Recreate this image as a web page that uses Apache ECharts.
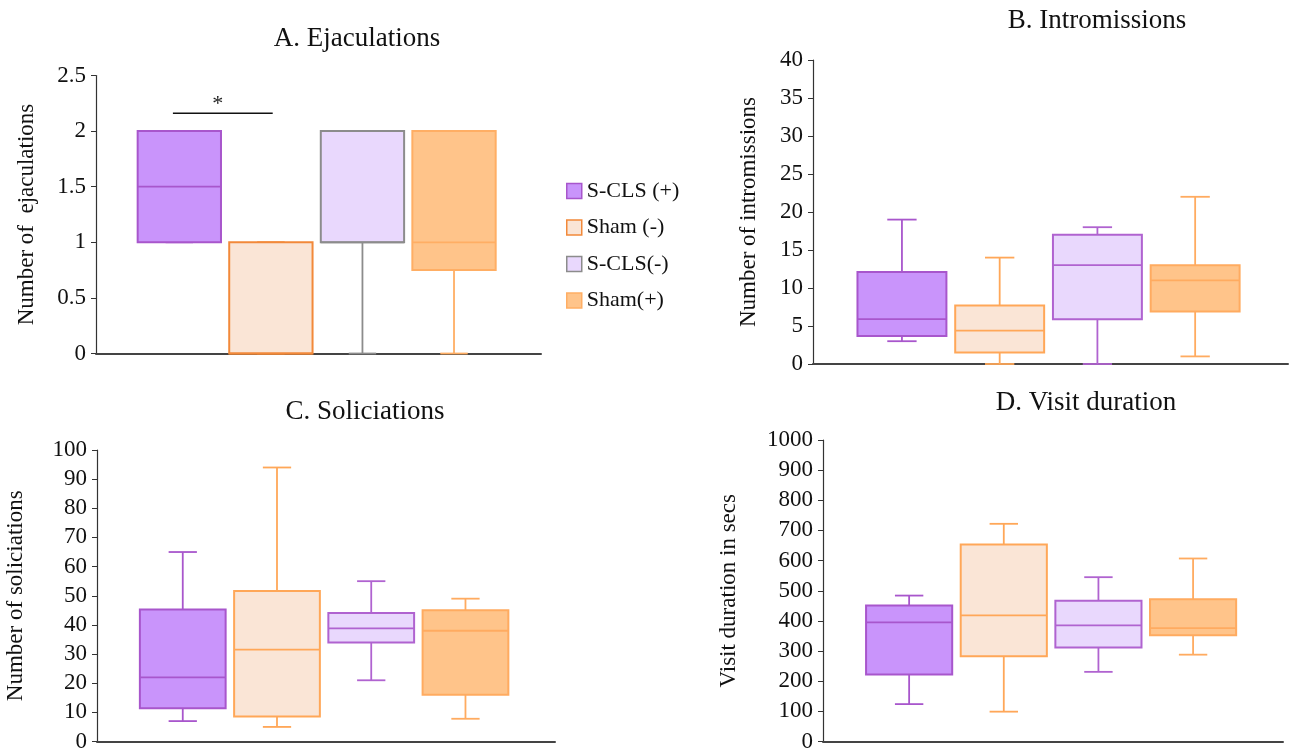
<!DOCTYPE html>
<html>
<head>
<meta charset="utf-8">
<title>Boxplots</title>
<script src="https://cdn.jsdelivr.net/npm/echarts@6/dist/echarts.min.js"></script>
<style>
html, body { margin: 0; padding: 0; background: #fff; }
#main { width: 1292px; height: 753px; }
</style>
</head>
<body>
<div id="main"></div>
<script>
// groups in legend order and where each one sits on the x axis
const groups = ['S-CLS (+)', 'Sham (-)', 'S-CLS(-)', 'Sham(+)'];
const positions = [1, 2, 3, 4];

// [min, Q1, median, Q3, max] for each group
const ejaculations = [[1, 1, 1.5, 2, 2], [0, 0, 0, 1, 1], [0, 1, 1, 2, 2], [0, 0.75, 1, 2, 2]];
const intromissions = [[3, 3.7, 5.9, 12.1, 19], [0, 1.5, 4.4, 7.7, 14], [0, 5.9, 13, 17, 18], [1, 6.9, 11, 13, 22]];
const soliciations = [[7, 11.4, 22, 45.3, 65], [5, 8.6, 31.5, 51.6, 94], [21, 34, 38.8, 44.1, 55], [7.8, 16, 38, 45, 49]];
const visitDuration = [[124, 222, 395, 451, 484], [99, 283, 418, 653, 722], [231, 312, 385, 467, 545], [288, 352, 376, 472, 607]];

const titles = ['A. Ejaculations', 'B. Intromissions', 'C. Soliciations', 'D. Visit duration'];
const yNames = ['Number of  ejaculations', 'Number of intromissions', 'Number of soliciations', 'Visit duration in secs'];
const yMax = [2.5, 40, 100, 1000];
const yStep = [0.5, 5, 10, 100];

// significance bar between S-CLS (+) and Sham (-) in panel A
const sigSpan = [0.93, 2.02];
const sigLevel = 2.16;
const sigText = '*';

const panelData = [ejaculations, intromissions, soliciations, visitDuration];

const fills = ['#c994fb', '#fae5d6', '#e9d8fd', '#ffc48a'];
const strokes = ['#a856cc', '#ffa758', '#b063d0', '#ffab60'];
const strokesA = ['#a856cc', '#f2893a', '#8c8c8c', '#ffae64'];

const font = 'Liberation Serif';
const layout = [
    {left: 96, top: 75.5, width: 445, height: 278, nameGap: 58, tx: 357, ty: 25},
    {left: 813, top: 60, width: 475, height: 304, nameGap: 53, tx: 1097, ty: 7},
    {left: 97, top: 450, width: 458, height: 292.7, nameGap: 70, tx: 365, ty: 398},
    {left: 823, top: 440, width: 460, height: 302.3, nameGap: 83, tx: 1086, ty: 389}
];

function boxRenderer(fill, stroke){
    return function(params, api){
        const x = api.value(0);
        const pt = v => api.coord([x, v]);
        const lo = pt(api.value(1)), q1 = pt(api.value(2)), md = pt(api.value(3)),
              q3 = pt(api.value(4)), hi = pt(api.value(5));
        const unit = api.size([1, 0])[0];
        const half = unit * 0.455, cap = unit * 0.15;
        const cx = lo[0];
        const seg = (x1, y1, x2, y2) => ({type: 'line', shape: {x1, y1, x2, y2}, style: {stroke: stroke, lineWidth: 1.8}});
        return {
            type: 'group',
            children: [
                seg(cx, hi[1], cx, q3[1]),
                seg(cx, q1[1], cx, lo[1]),
                seg(cx - cap, hi[1], cx + cap, hi[1]),
                seg(cx - cap, lo[1], cx + cap, lo[1]),
                {type: 'rect', shape: {x: cx - half, y: q3[1], width: half * 2, height: q1[1] - q3[1]},
                 style: {fill: fill, stroke: stroke, lineWidth: 2}},
                seg(cx - half, md[1], cx + half, md[1])
            ]
        };
    };
}

function sigRenderer(params, api){
    const a = api.coord([api.value(0), api.value(2)]);
    const b = api.coord([api.value(1), api.value(2)]);
    return {
        type: 'group',
        children: [
            {type: 'line', shape: {x1: a[0], y1: a[1], x2: b[0], y2: b[1]}, style: {stroke: '#111', lineWidth: 1.5}},
            {type: 'text', x: (a[0] + b[0]) / 2 - 5, y: a[1] + 2,
             style: {text: sigText, font: '22px "' + font + '"', fill: '#222', align: 'center', verticalAlign: 'bottom'}}
        ]
    };
}

const grid = [], xAxis = [], yAxis = [], title = [], series = [];

layout.forEach(function(p, g){
    grid.push({left: p.left, top: p.top, width: p.width, height: p.height});
    title.push({
        text: titles[g], left: p.tx, top: p.ty, textAlign: 'center', padding: 0,
        textStyle: {fontFamily: font, fontSize: 27, fontWeight: 'normal', color: '#111'}
    });
    xAxis.push({
        type: 'value', gridIndex: g, min: 0.09, max: 4.95,
        axisLine: {show: true, lineStyle: {color: '#444', width: 2}},
        axisTick: {show: false}, axisLabel: {show: false}, splitLine: {show: false}
    });
    yAxis.push({
        type: 'value', gridIndex: g, min: 0, max: yMax[g], interval: yStep[g],
        name: yNames[g], nameLocation: 'middle', nameGap: p.nameGap,
        nameTextStyle: {fontFamily: font, fontSize: 23, color: '#111'},
        axisLine: {show: true, onZero: false, lineStyle: {color: '#333', width: 1.2}},
        axisTick: {show: true, length: 5, lineStyle: {color: '#333'}},
        axisLabel: {fontFamily: font, fontSize: 23, color: '#111', margin: 10, formatter: v => String(v)},
        splitLine: {show: false}
    });
    panelData[g].forEach(function(vals, k){
        const stroke = g === 0 ? strokesA[k] : strokes[k];
        series.push({
            type: 'custom', name: groups[k], xAxisIndex: g, yAxisIndex: g,
            renderItem: boxRenderer(fills[k], stroke),
            itemStyle: {color: fills[k], borderColor: stroke, borderWidth: 1.5},
            encode: {x: 0, y: [1, 2, 3, 4, 5]},
            data: [[positions[k]].concat(vals)],
            silent: true
        });
    });
});

series.push({
    type: 'custom', name: 'sig', xAxisIndex: 0, yAxisIndex: 0,
    renderItem: sigRenderer,
    encode: {x: [0, 1], y: 2},
    data: [[sigSpan[0], sigSpan[1], sigLevel]],
    silent: true
});

const chart = echarts.init(document.getElementById('main'));
chart.setOption({
    animation: false,
    backgroundColor: '#fff',
    title: title,
    legend: {
        data: groups, orient: 'vertical', left: 561, top: 175,
        icon: 'rect', itemWidth: 15, itemHeight: 15, itemGap: 14.5,
        itemStyle: {borderWidth: 1.5},
        textStyle: {fontFamily: font, fontSize: 22, color: '#111'}
    },
    grid: grid,
    xAxis: xAxis,
    yAxis: yAxis,
    series: series
});
</script>
</body>
</html>
